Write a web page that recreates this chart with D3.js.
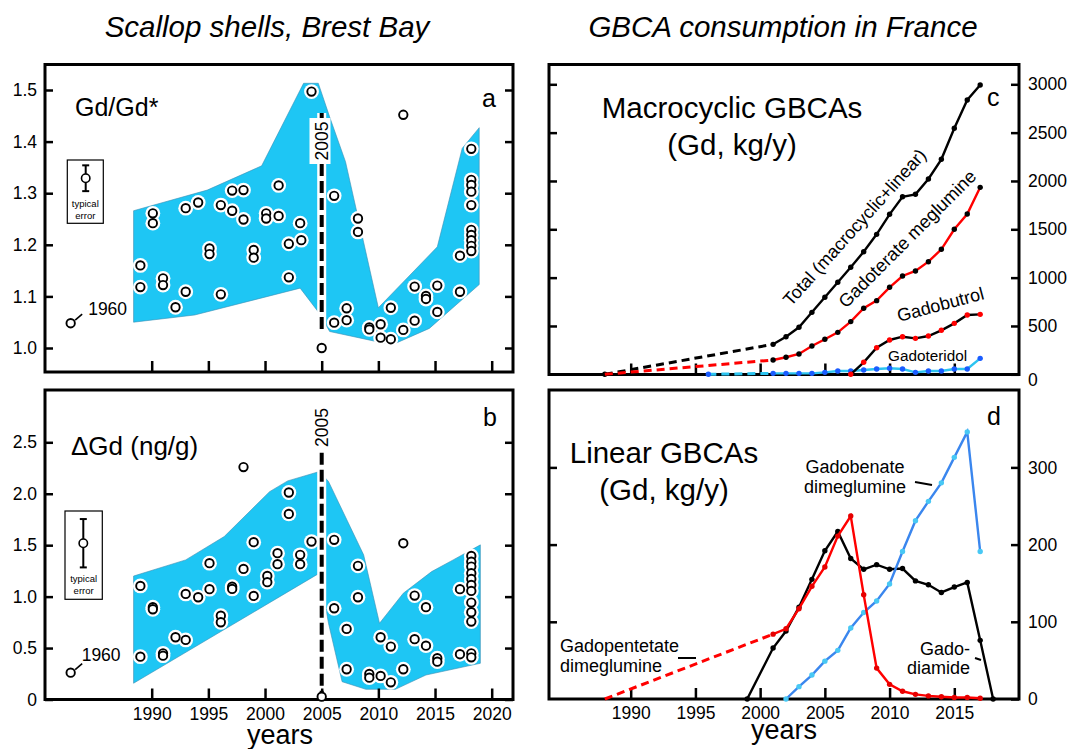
<!DOCTYPE html>
<html>
<head>
<meta charset="utf-8">
<script src="https://cdn.jsdelivr.net/npm/d3@7"></script>
<style>
  body { margin: 0; background: #fff; }
  svg { font-family: "Liberation Sans", Arial, Helvetica, sans-serif; }
</style>
</head>
<body>
<div id="chart"></div>
<script>
// ---- scallop shells: [year, value] ----
const gdSamples = [
  [1989.0,1.160],[1989.0,1.118],[1990.1,1.261],[1990.1,1.242],[1991.0,1.135],[1991.0,1.122],
  [1992.1,1.079],[1993.0,1.109],[1993.0,1.271],[1994.1,1.282],[1995.1,1.193],[1995.1,1.182],
  [1996.1,1.104],[1996.1,1.277],[1997.1,1.305],[1997.1,1.266],[1998.1,1.306],[1998.1,1.249],
  [1999.0,1.190],[1999.0,1.175],[2000.1,1.261],[2000.1,1.251],[2001.2,1.256],[2001.2,1.315],
  [2002.1,1.202],[2002.1,1.137],[2003.1,1.242],[2003.2,1.209],[2004.1,1.497],[2005.0,1.000],
  [2006.1,1.295],[2006.1,1.049],[2007.2,1.077],[2007.2,1.054],[2008.2,1.251],[2008.2,1.225],
  [2009.2,1.040],[2009.2,1.036],[2010.2,1.046],[2010.2,1.020],[2011.1,1.078],[2011.1,1.017],
  [2012.2,1.452],[2012.2,1.035],[2013.2,1.119],[2013.2,1.053],[2014.2,1.101],[2014.2,1.095],
  [2015.2,1.121],[2015.2,1.070],[2017.2,1.179],[2017.2,1.109],
  [2018.2,1.386],[2018.2,1.326],[2018.2,1.316],[2018.2,1.303],[2018.2,1.277],[2018.2,1.229],
  [2018.2,1.219],[2018.2,1.209],[2018.2,1.198],[2018.2,1.188]
];
const dgdSamples = [
  [1989.0,1.104],[1989.0,0.416],[1990.1,0.897],[1990.1,0.877],[1991.0,0.449],[1991.0,0.426],
  [1992.1,0.605],[1993.0,1.026],[1993.0,0.579],[1994.1,0.994],[1995.1,1.325],[1995.1,1.072],
  [1996.1,0.815],[1996.1,0.751],[1997.1,1.097],[1997.1,1.075],[1998.1,2.259],[1998.1,1.269],
  [1999.0,1.529],[1999.0,1.007],[2000.2,1.201],[2000.2,1.140],[2001.1,1.422],[2001.1,1.315],
  [2002.1,2.012],[2002.1,1.804],[2003.1,1.406],[2003.1,1.315],[2004.1,1.535],[2005.0,0.027],
  [2006.1,1.552],[2006.1,0.887],[2007.2,0.686],[2007.2,0.294],[2008.2,1.299],[2008.2,0.994],
  [2009.2,0.248],[2009.2,0.212],[2010.2,0.605],[2010.2,0.229],[2011.1,0.514],[2011.1,0.167],
  [2012.2,1.519],[2012.2,0.294],[2013.2,1.010],[2013.2,0.586],[2014.2,0.897],[2014.2,0.523],
  [2015.2,0.401],[2015.2,0.368],[2017.2,1.072],[2017.2,0.440],
  [2018.2,1.396],[2018.2,1.340],[2018.2,1.292],[2018.2,1.228],[2018.2,1.172],[2018.2,1.114],
  [2018.2,1.055],[2018.2,0.942],[2018.2,0.848],[2018.2,0.757],[2018.2,0.449],[2018.2,0.410]
];
// 1960 sample, drawn on a broken axis left of the scale
const sample1960 = { year: 1960, plotYear: 1982.85, gd: 1.048, dgd: 0.261 };

// envelope of the samples
const gdBandUpper = [[1988.4,1.266],[1994.9,1.306],[1999.7,1.353],[2003.4,1.513],[2004.7,1.513],
  [2005.7,1.448],[2007.1,1.361],[2010.0,1.078],[2015.2,1.196],[2017.4,1.387],[2018.9,1.427]];
const gdBandLower = [[1988.4,1.050],[1993.8,1.064],[2003.1,1.116],[2004.8,1.067],[2005.7,1.032],
  [2011.2,1.006],[2014.5,1.038],[2018.9,1.123]];
const dgdBandUpper = [[1988.4,1.200],[1993.0,1.357],[1996.4,1.584],[2000.4,2.020],[2002.0,2.125],
  [2004.8,2.216],[2005.6,2.119],[2008.7,1.406],[2010.1,0.741],[2012.2,1.033],[2014.7,1.243],
  [2016.6,1.357],[2019.0,1.503]];
const dgdBandLower = [[1988.4,0.158],[2004.8,1.228],[2005.6,0.741],[2006.8,0.173],[2008.9,0.099],
  [2011.5,0.099],[2014.2,0.238],[2019.0,0.352]];

const gdError = { value: 1.329, err: 0.025 };
const dgdError = { value: 1.519, err: 0.235 };

// ---- GBCA consumption in France (Gd, kg/y) ----
const macroYears = [2001,2002,2003,2004,2005,2006,2007,2008,2009,2010,2011,2012,2013,2014,2015,2016,2017];
const totalGd      = [310,389,486,641,797,952,1107,1268,1448,1655,1837,1862,2020,2224,2545,2838,2993];
const gadoterate   = [148,176,210,293,362,434,545,683,762,900,1017,1069,1165,1293,1500,1658,1934];
const gadoteridol  = [10,10,10,10,20,34,34,45,55,62,55,20,34,34,55,55,165];
const gadobutrolYears = [2007,2008,2009,2010,2011,2012,2013,2014,2015,2016,2017];
const gadobutrol   = [0,124,275,355,389,372,396,455,527,613,620];
const totalEarly       = [[1988,0],[2001,310]];
const gadoterateEarly  = [[1988,0],[2001,148]];
const gadoteridolEarly = [[1996,0],[2001,10]];

const pentetateYears = [2001,2002,2003,2004,2005,2006,2007,2008,2009,2010,2011,2012,2013,2014,2015,2016,2017];
const gadopentetate  = [84,91,117,146,171,211,237,135,40,19,10,6,4,3,2,2,1];
const gadopentetateEarly = [[1988,0],[2001,84]];
const diamideYears = [1999,2001,2002,2003,2004,2005,2006,2007,2008,2009,2010,2011,2012,2013,2014,2015,2016,2017,2018];
const gadodiamide  = [0,66,88,119,155,192,217,182,168,174,168,169,153,148,138,145,151,76,0];
const benateYears  = [2002,2003,2004,2005,2006,2007,2008,2009,2010,2011,2012,2013,2014,2015,2016,2017];
const gadobenate   = [0,16,31,49,63,92,112,127,149,191,231,256,280,313,346,191];

const shellTicks = [1990,1995,2000,2005,2010,2015,2020];
const gbcaTicks  = [1990,1995,2000,2005,2010,2015];
const gdTicks    = [1.0,1.1,1.2,1.3,1.4,1.5];
const dgdTicks   = [0,0.5,1.0,1.5,2.0,2.5];
const macroTicks = [0,500,1000,1500,2000,2500,3000];
const linearTicks = [0,100,200,300];

// ---- layout ----
const W = 1072, H = 749;
const panelA = {left: 45, right: 513, top: 64.5, bottom: 372};
const panelB = {left: 45, right: 513, top: 390, bottom: 699.5};
const panelC = {left: 549, right: 1019, top: 64.5, bottom: 374.5};
const panelD = {left: 549, right: 1019, top: 390, bottom: 699};
const bandColor = '#1ec6f4';

const svg = d3.select('#chart').append('svg')
    .attr('width', W)
    .attr('height', H);

// scales
const xShell = d3.scaleLinear().domain([1990, 2020]).range([151.7, 491.7]);
const yGd = d3.scaleLinear().domain([1.0, 1.5]).range([348, 90]);
const yDgd = d3.scaleLinear().domain([0, 2.5]).range([699.5, 442.3]);
const xGbca = d3.scaleLinear().domain([1990, 2015]).range([630.7, 954.3]);
const yMacro = d3.scaleLinear().domain([0, 3000]).range([374.3, 84.3]);
const yLinear = d3.scaleLinear().domain([0, 300]).range([699, 467.4]);

// titles
svg.append('text').attr('x', 267).attr('y', 37).attr('text-anchor', 'middle')
    .attr('font-size', 29.5).attr('font-style', 'italic').text('Scallop shells, Brest Bay');
svg.append('text').attr('x', 783).attr('y', 37).attr('text-anchor', 'middle')
    .attr('font-size', 29.5).attr('font-style', 'italic').text('GBCA consumption in France');

function drawAxes(g, p, xScale, xTicks, yScale, yTicks, opts) {
  const xa = g.append('g').attr('transform', `translate(0,${p.bottom})`)
      .call(d3.axisBottom(xScale).tickValues(xTicks).tickSize(-11).tickPadding(8)
        .tickFormat(opts.xLabels ? d3.format('d') : ''));
  const yl = g.append('g').attr('transform', `translate(${p.left},0)`)
      .call(d3.axisLeft(yScale).tickValues(opts.leftTicks || yTicks).tickSize(-8).tickPadding(8)
        .tickFormat(opts.leftFormat || ''));
  const yr = g.append('g').attr('transform', `translate(${p.right},0)`)
      .call(d3.axisRight(yScale).tickValues(yTicks).tickSize(-8).tickPadding(9)
        .tickFormat(opts.rightFormat || ''));
  [xa, yl, yr].forEach(a => {
    a.select('.domain').remove();
    a.selectAll('line').attr('stroke', '#000').attr('stroke-width', 2.5);
    a.selectAll('text').attr('fill', '#000').attr('font-size', 17.5)
      .attr('font-family', '"Liberation Sans", Arial, sans-serif');
  });
  g.append('rect')
      .attr('x', p.left).attr('y', p.top)
      .attr('width', p.right - p.left).attr('height', p.bottom - p.top)
      .attr('fill', 'none').attr('stroke', '#000').attr('stroke-width', 3);
}

function bandPath(upper, lower, yScale) {
  const pts = upper.concat(lower.slice().reverse());
  return d3.line().x(d => xShell(d[0])).y(d => yScale(d[1]))(pts) + 'Z';
}

function shellPanel(p, samples, upper, lower, yScale, yTicks, key, opts) {
  const g = svg.append('g');
  g.append('path').attr('d', bandPath(upper, lower, yScale))
      .attr('fill', bandColor).attr('stroke', '#3d8fb3').attr('stroke-width', 0.6);

  // white strip behind the 2005 line
  g.append('line').attr('x1', xShell(2005)).attr('x2', xShell(2005))
      .attr('y1', opts.lineTop).attr('y2', opts.lineBottom)
      .attr('stroke', '#fff').attr('stroke-width', 9);

  // white halos
  g.selectAll('.halo').data(samples).join('circle').attr('class', 'halo')
      .attr('cx', d => xShell(d[0])).attr('cy', d => yScale(d[1])).attr('r', 7.4)
      .attr('fill', '#fff');

  g.append('line').attr('x1', xShell(2005)).attr('x2', xShell(2005))
      .attr('y1', opts.lineTop).attr('y2', opts.lineBottom)
      .attr('stroke', '#000').attr('stroke-width', 4).attr('stroke-dasharray', '12,5');

  drawAxes(g, p, xShell, shellTicks, yScale, yTicks, {
    xLabels: opts.xLabels,
    leftFormat: d => d === 0 ? '0' : d3.format('.1f')(d)
  });

  g.selectAll('.pt').data(samples).join('circle').attr('class', 'pt')
      .attr('cx', d => xShell(d[0])).attr('cy', d => yScale(d[1])).attr('r', 4.2)
      .attr('fill', '#fff').attr('stroke', '#000').attr('stroke-width', 1.9);

  // 1960 sample on broken axis
  const px = xShell(sample1960.plotYear), py = yScale(sample1960[key]);
  g.append('circle').attr('cx', px).attr('cy', py).attr('r', 4.2)
      .attr('fill', '#fff').attr('stroke', '#000').attr('stroke-width', 1.9);
  g.append('line').attr('x1', px + 4.5).attr('y1', py - 3).attr('x2', px + 11.5).attr('y2', py - 9)
      .attr('stroke', '#000').attr('stroke-width', 1.6);
  g.append('text').attr('x', px + opts.labelDx).attr('y', py + opts.labelDy)
      .attr('font-size', 17.5).text(String(sample1960.year));

  // typical error legend
  const e = opts.error;
  const ex = opts.errX;
  g.append('rect').attr('x', opts.errBox[0]).attr('y', opts.errBox[1])
      .attr('width', opts.errBox[2]).attr('height', opts.errBox[3])
      .attr('fill', '#fff').attr('stroke', '#000').attr('stroke-width', 1.2);
  g.append('line').attr('x1', ex).attr('x2', ex)
      .attr('y1', yScale(e.value + e.err)).attr('y2', yScale(e.value - e.err))
      .attr('stroke', '#000').attr('stroke-width', 2);
  [e.value + e.err, e.value - e.err].forEach(v => {
    g.append('line').attr('x1', ex - 3.5).attr('x2', ex + 3.5)
        .attr('y1', yScale(v)).attr('y2', yScale(v))
        .attr('stroke', '#000').attr('stroke-width', 2);
  });
  g.append('circle').attr('cx', ex).attr('cy', yScale(e.value)).attr('r', 4.2)
      .attr('fill', '#fff').attr('stroke', '#000').attr('stroke-width', 1.6);
  const bx = opts.errBox[0] + opts.errBox[2] / 2;
  g.append('text').attr('x', bx).attr('y', opts.errText[0]).attr('text-anchor', 'middle')
      .attr('font-size', 9.5).text('typical');
  g.append('text').attr('x', bx).attr('y', opts.errText[1]).attr('text-anchor', 'middle')
      .attr('font-size', 9.5).text('error');

  return g;
}

// panel a
const gA = shellPanel(panelA, gdSamples, gdBandUpper, gdBandLower, yGd, gdTicks, 'gd', {
  lineTop: 113, lineBottom: 332, xLabels: false, labelDx: 17.5, labelDy: -8,
  error: gdError, errX: 85.7, errBox: [67.3, 160, 36, 63.3], errText: [207, 219]
});
gA.append('rect').attr('x', 309.5).attr('y', 118).attr('width', 21).attr('height', 46).attr('fill', '#fff');
gA.append('text').attr('transform', `translate(${xShell(2005) + 6},141) rotate(-90)`)
    .attr('text-anchor', 'middle').attr('font-size', 17.5).text('2005');
gA.append('text').attr('x', 75).attr('y', 116).attr('font-size', 25).text('Gd/Gd*');
gA.append('text').attr('x', 482).attr('y', 107).attr('font-size', 25).text('a');

// panel b
const gB = shellPanel(panelB, dgdSamples, dgdBandUpper, dgdBandLower, yDgd, dgdTicks, 'dgd', {
  lineTop: 452.7, lineBottom: 699, xLabels: true, labelDx: 11, labelDy: -12,
  error: dgdError, errX: 83.3, errBox: [65, 511, 37.3, 88.3], errText: [582, 594]
});
gB.append('text').attr('transform', `translate(${xShell(2005) + 6},427.5) rotate(-90)`)
    .attr('text-anchor', 'middle').attr('font-size', 17.5).text('2005');
gB.append('text').attr('x', 71).attr('y', 455).attr('font-size', 26).text('\u0394Gd (ng/g)');
gB.append('text').attr('x', 483).attr('y', 426).attr('font-size', 25).text('b');
svg.append('text').attr('x', 280).attr('y', 744).attr('text-anchor', 'middle')
    .attr('font-size', 27).text('years');

// ---- GBCA panels ----
function series(g, pts, xs, ys, color, dotColor, dashed) {
  g.append('path').datum(pts)
      .attr('d', d3.line().x(d => xs(d[0])).y(d => ys(d[1])))
      .attr('fill', 'none').attr('stroke', color)
      .attr('stroke-width', dashed ? 3 : 2.4)
      .attr('stroke-dasharray', dashed ? '8,5' : null);
  if (dotColor) {
    g.selectAll(null).data(dashed ? pts.slice(0, 1) : pts).join('circle')
        .attr('cx', d => xs(d[0])).attr('cy', d => ys(d[1])).attr('r', 2.7)
        .attr('fill', dotColor);
  }
}
const zip = (xs, vs) => xs.map((x, i) => [x, vs[i]]);

// panel c
const gC = svg.append('g');
drawAxes(gC, panelC, xGbca, gbcaTicks, yMacro, macroTicks, {
  xLabels: false, leftTicks: macroTicks.slice(1), rightFormat: d3.format('d')
});
gC.selectAll('.tick text').filter(d => d === 0).attr('dy', '0.65em');
series(gC, totalEarly, xGbca, yMacro, '#000', '#000', true);
series(gC, gadoterateEarly, xGbca, yMacro, '#f00', null, true);
series(gC, gadoteridolEarly, xGbca, yMacro, '#2cc4f0', '#1a5cff', true);
series(gC, zip(macroYears, gadoteridol), xGbca, yMacro, '#2cc4f0', '#1a5cff', false);
series(gC, zip(gadobutrolYears, gadobutrol), xGbca, yMacro, '#000', '#f00', false);
series(gC, zip(macroYears, gadoterate), xGbca, yMacro, '#f00', '#000', false);
series(gC, zip(macroYears, totalGd), xGbca, yMacro, '#000', '#000', false);

gC.append('text').attr('x', 732).attr('y', 118).attr('text-anchor', 'middle')
    .attr('font-size', 29.5).text('Macrocyclic GBCAs');
gC.append('text').attr('x', 732).attr('y', 155).attr('text-anchor', 'middle')
    .attr('font-size', 29.5).text('(Gd, kg/y)');
gC.append('text').attr('transform', 'translate(791,307) rotate(-48)')
    .attr('font-size', 18).text('Total (macrocyclic+linear)');
gC.append('text').attr('transform', 'translate(846,309) rotate(-45)')
    .attr('font-size', 18.3).text('Gadoterate meglumine');
gC.append('text').attr('x', 0).attr('transform', 'translate(899,322) rotate(-15)')
    .attr('font-size', 18).text('Gadobutrol');
gC.append('text').attr('x', 888).attr('y', 361).attr('font-size', 15.3).text('Gadoteridol');
gC.append('text').attr('x', 987).attr('y', 106).attr('font-size', 25).text('c');

// panel d
const gD = svg.append('g');
drawAxes(gD, panelD, xGbca, gbcaTicks, yLinear, linearTicks, {
  xLabels: true, leftTicks: linearTicks.slice(1), rightFormat: d3.format('d')
});
series(gD, gadopentetateEarly, xGbca, yLinear, '#f00', null, true);
series(gD, zip(diamideYears, gadodiamide), xGbca, yLinear, '#000', '#000', false);
series(gD, zip(benateYears, gadobenate), xGbca, yLinear, '#3a86ee', '#48c8f4', false);
series(gD, zip(pentetateYears, gadopentetate), xGbca, yLinear, '#f00', '#e60000', false);

gD.append('text').attr('x', 664).attr('y', 463).attr('text-anchor', 'middle')
    .attr('font-size', 29.5).text('Linear GBCAs');
gD.append('text').attr('x', 664).attr('y', 500).attr('text-anchor', 'middle')
    .attr('font-size', 29.5).text('(Gd, kg/y)');
gD.append('text').attr('x', 560).attr('y', 652).attr('font-size', 18).text('Gadopentetate');
gD.append('text').attr('x', 560).attr('y', 672).attr('font-size', 18).text('dimeglumine');
gD.append('line').attr('x1', 678).attr('x2', 696).attr('y1', 658).attr('y2', 658)
    .attr('stroke', '#000').attr('stroke-width', 2);
gD.append('text').attr('x', 855).attr('y', 473).attr('text-anchor', 'middle')
    .attr('font-size', 18).text('Gadobenate');
gD.append('text').attr('x', 855).attr('y', 493).attr('text-anchor', 'middle')
    .attr('font-size', 18).text('dimeglumine');
gD.append('line').attr('x1', 915).attr('x2', 932).attr('y1', 482).attr('y2', 485)
    .attr('stroke', '#000').attr('stroke-width', 2);
gD.append('text').attr('x', 970).attr('y', 655).attr('text-anchor', 'end')
    .attr('font-size', 18).text('Gado-');
gD.append('text').attr('x', 970).attr('y', 674).attr('text-anchor', 'end')
    .attr('font-size', 18).text('diamide');
gD.append('line').attr('x1', 975).attr('x2', 981).attr('y1', 658).attr('y2', 660)
    .attr('stroke', '#000').attr('stroke-width', 2);
gD.append('text').attr('x', 987).attr('y', 425).attr('font-size', 25).text('d');
svg.append('text').attr('x', 784).attr('y', 739).attr('text-anchor', 'middle')
    .attr('font-size', 27).text('years');
</script>
</body>
</html>
